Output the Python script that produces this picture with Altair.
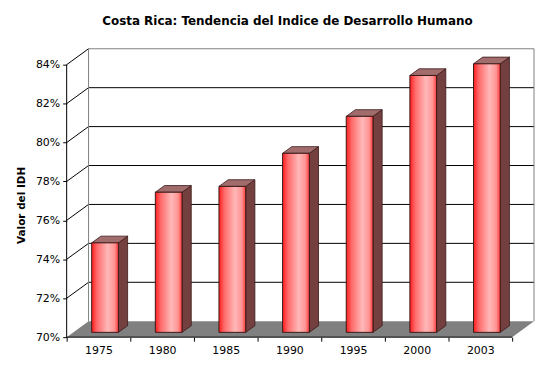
import json
import altair as alt
import pandas as pd

# ---- data ----
years = ["1975", "1980", "1985", "1990", "1995", "2000", "2003"]
idh = [0.746, 0.772, 0.775, 0.792, 0.811, 0.832, 0.838]
y_ticks = [0.70, 0.72, 0.74, 0.76, 0.78, 0.80, 0.82, 0.84]
title_text = "Costa Rica: Tendencia del Indice de Desarrollo Humano"
y_title = "Valor del IDH"

# ---- 3D geometry (pseudo-perspective offsets in data units) ----
N = len(years)
DX = 0.344      # depth shift along x (category units)
DY = 0.00818    # depth shift along y (value units)
BW = 0.42       # bar width (category units)
D0, D1 = 0.30, 0.72   # bar depth range (fraction of floor depth)
YMIN, YMAX = y_ticks[0], y_ticks[-1]

xs = alt.Scale(domain=[0, N + DX], nice=False, zero=False)
ys = alt.Scale(domain=[YMIN, YMAX + DY], nice=False, zero=False)

label_expr = "datum.value < %d ? %s[datum.value] : ''" % (N, json.dumps(years).replace('"', "'"))
xaxis = alt.Axis(values=list(range(N + 1)), labelExpr=label_expr, labelOffset=32, labelOverlap=False,
                 labelFlush=False, labelAlign="center",
                 domain=False, grid=False, tickSize=4, tickColor="black", labelPadding=3,
                 labelFont="DejaVu Sans", labelFontSize=11, labelColor="black", title=None)
yaxis = alt.Axis(values=y_ticks, format=".0%", domain=False, grid=False, tickSize=4,
                 tickColor="black", labelPadding=3, labelFont="DejaVu Sans", labelFontSize=11,
                 labelColor="black", labelFlush=False, title=y_title, titleFont="DejaVu Sans",
                 titleFontSize=10.5, titleFontWeight="bold", titleColor="black", titleX=-45, titleY=157,
                 titleAngle=270, titleAlign="center", titleBaseline="middle")

X = alt.X("x:Q", scale=xs, axis=xaxis)
Y = alt.Y("y:Q", scale=ys, axis=yaxis)
X2 = alt.X2("x2:Q")
Y2 = alt.Y2("y2:Q")

# floor
floor_df = pd.DataFrame([{"y": YMIN + d * DY, "x": d * DX, "x2": N + d * DX} for d in (0, 1)])
floor = alt.Chart(floor_df).mark_area(orient="horizontal", color="#808080").encode(y=Y, x=X, x2=X2)

# back wall gridlines
grid_df = pd.DataFrame([{"x": DX, "x2": N + DX, "y": v + DY, "y2": v + DY} for v in y_ticks[1:-1]])
grid = alt.Chart(grid_df).mark_rule(color="black", strokeWidth=1).encode(x=X, x2=X2, y=Y, y2=Y2)

# left wall diagonals
diag_df = pd.DataFrame([{"x": 0, "x2": DX, "y": v, "y2": v + DY} for v in y_ticks[1:]])
diag = alt.Chart(diag_df).mark_rule(color="black", strokeWidth=1).encode(x=X, x2=X2, y=Y, y2=Y2)

# back wall border
border_df = pd.DataFrame([
    {"x": DX, "x2": N + DX, "y": YMAX + DY, "y2": YMAX + DY},
    {"x": DX, "x2": DX, "y": YMIN + DY, "y2": YMAX + DY},
    {"x": N + DX, "x2": N + DX, "y": YMIN + DY, "y2": YMAX + DY},
])
border = alt.Chart(border_df).mark_rule(color="#808080", strokeWidth=1).encode(x=X, x2=X2, y=Y, y2=Y2)

# front axis lines
axes_df = pd.DataFrame([
    {"x": 0, "x2": 0, "y": YMIN, "y2": YMAX},
    {"x": 0, "x2": N, "y": YMIN, "y2": YMIN},
])
axlines = alt.Chart(axes_df).mark_rule(color="black", strokeWidth=1).encode(x=X, x2=X2, y=Y, y2=Y2)

# bars
front_rows, side_rows, top_rows = [], [], []
for i, (yr, v) in enumerate(zip(years, idh)):
    left = i + 0.5 - BW / 2
    right = i + 0.5 + BW / 2
    front_rows.append({"year": yr, "x": left + D0 * DX, "x2": right + D0 * DX,
                       "y": v + D0 * DY, "y2": YMIN + D0 * DY})
    for d in (D0, D1):
        side_rows.append({"year": yr, "x": right + d * DX, "y": v + d * DY, "y2": YMIN + d * DY})
        top_rows.append({"year": yr, "y": v + d * DY, "x": left + d * DX, "x2": right + d * DX})

side = alt.Chart(pd.DataFrame(side_rows)).mark_area(
    orient="vertical", color="#74403f", stroke="#3a1818", strokeWidth=0.8
).encode(x=X, y=Y, y2=Y2, detail="year:N")

top = alt.Chart(pd.DataFrame(top_rows)).mark_area(
    orient="horizontal", color="#a06c6c", stroke="#3a1818", strokeWidth=0.8
).encode(y=Y, x=X, x2=X2, detail="year:N")

grad = alt.Gradient(
    gradient="linear",
    stops=[
        alt.GradientStop(color="#ff1c1c", offset=0),
        alt.GradientStop(color="#ff6a6a", offset=0.2),
        alt.GradientStop(color="#ffb8b8", offset=0.6),
        alt.GradientStop(color="#ff9494", offset=0.85),
        alt.GradientStop(color="#ff3a3a", offset=1),
    ],
    x1=0, x2=1, y1=0, y2=0,
)
front = alt.Chart(pd.DataFrame(front_rows)).mark_rect(
    color=grad, stroke="#3a1818", strokeWidth=1
).encode(x=X, x2=X2, y=Y, y2=Y2)

chart = alt.layer(floor, grid, diag, border, axlines, side, top, front).properties(
    width=470, height=290,
    title=alt.TitleParams(title_text, font="DejaVu Sans", fontSize=12, fontWeight="bold",
                          color="black", anchor="middle", dx=-13, offset=20),
    autosize="none",
    padding={"left": 59, "top": 40, "right": 5, "bottom": 22},
    background="white",
).configure_view(stroke=None)

chart.save("out.html", embed_options={"renderer": "svg", "actions": False})
